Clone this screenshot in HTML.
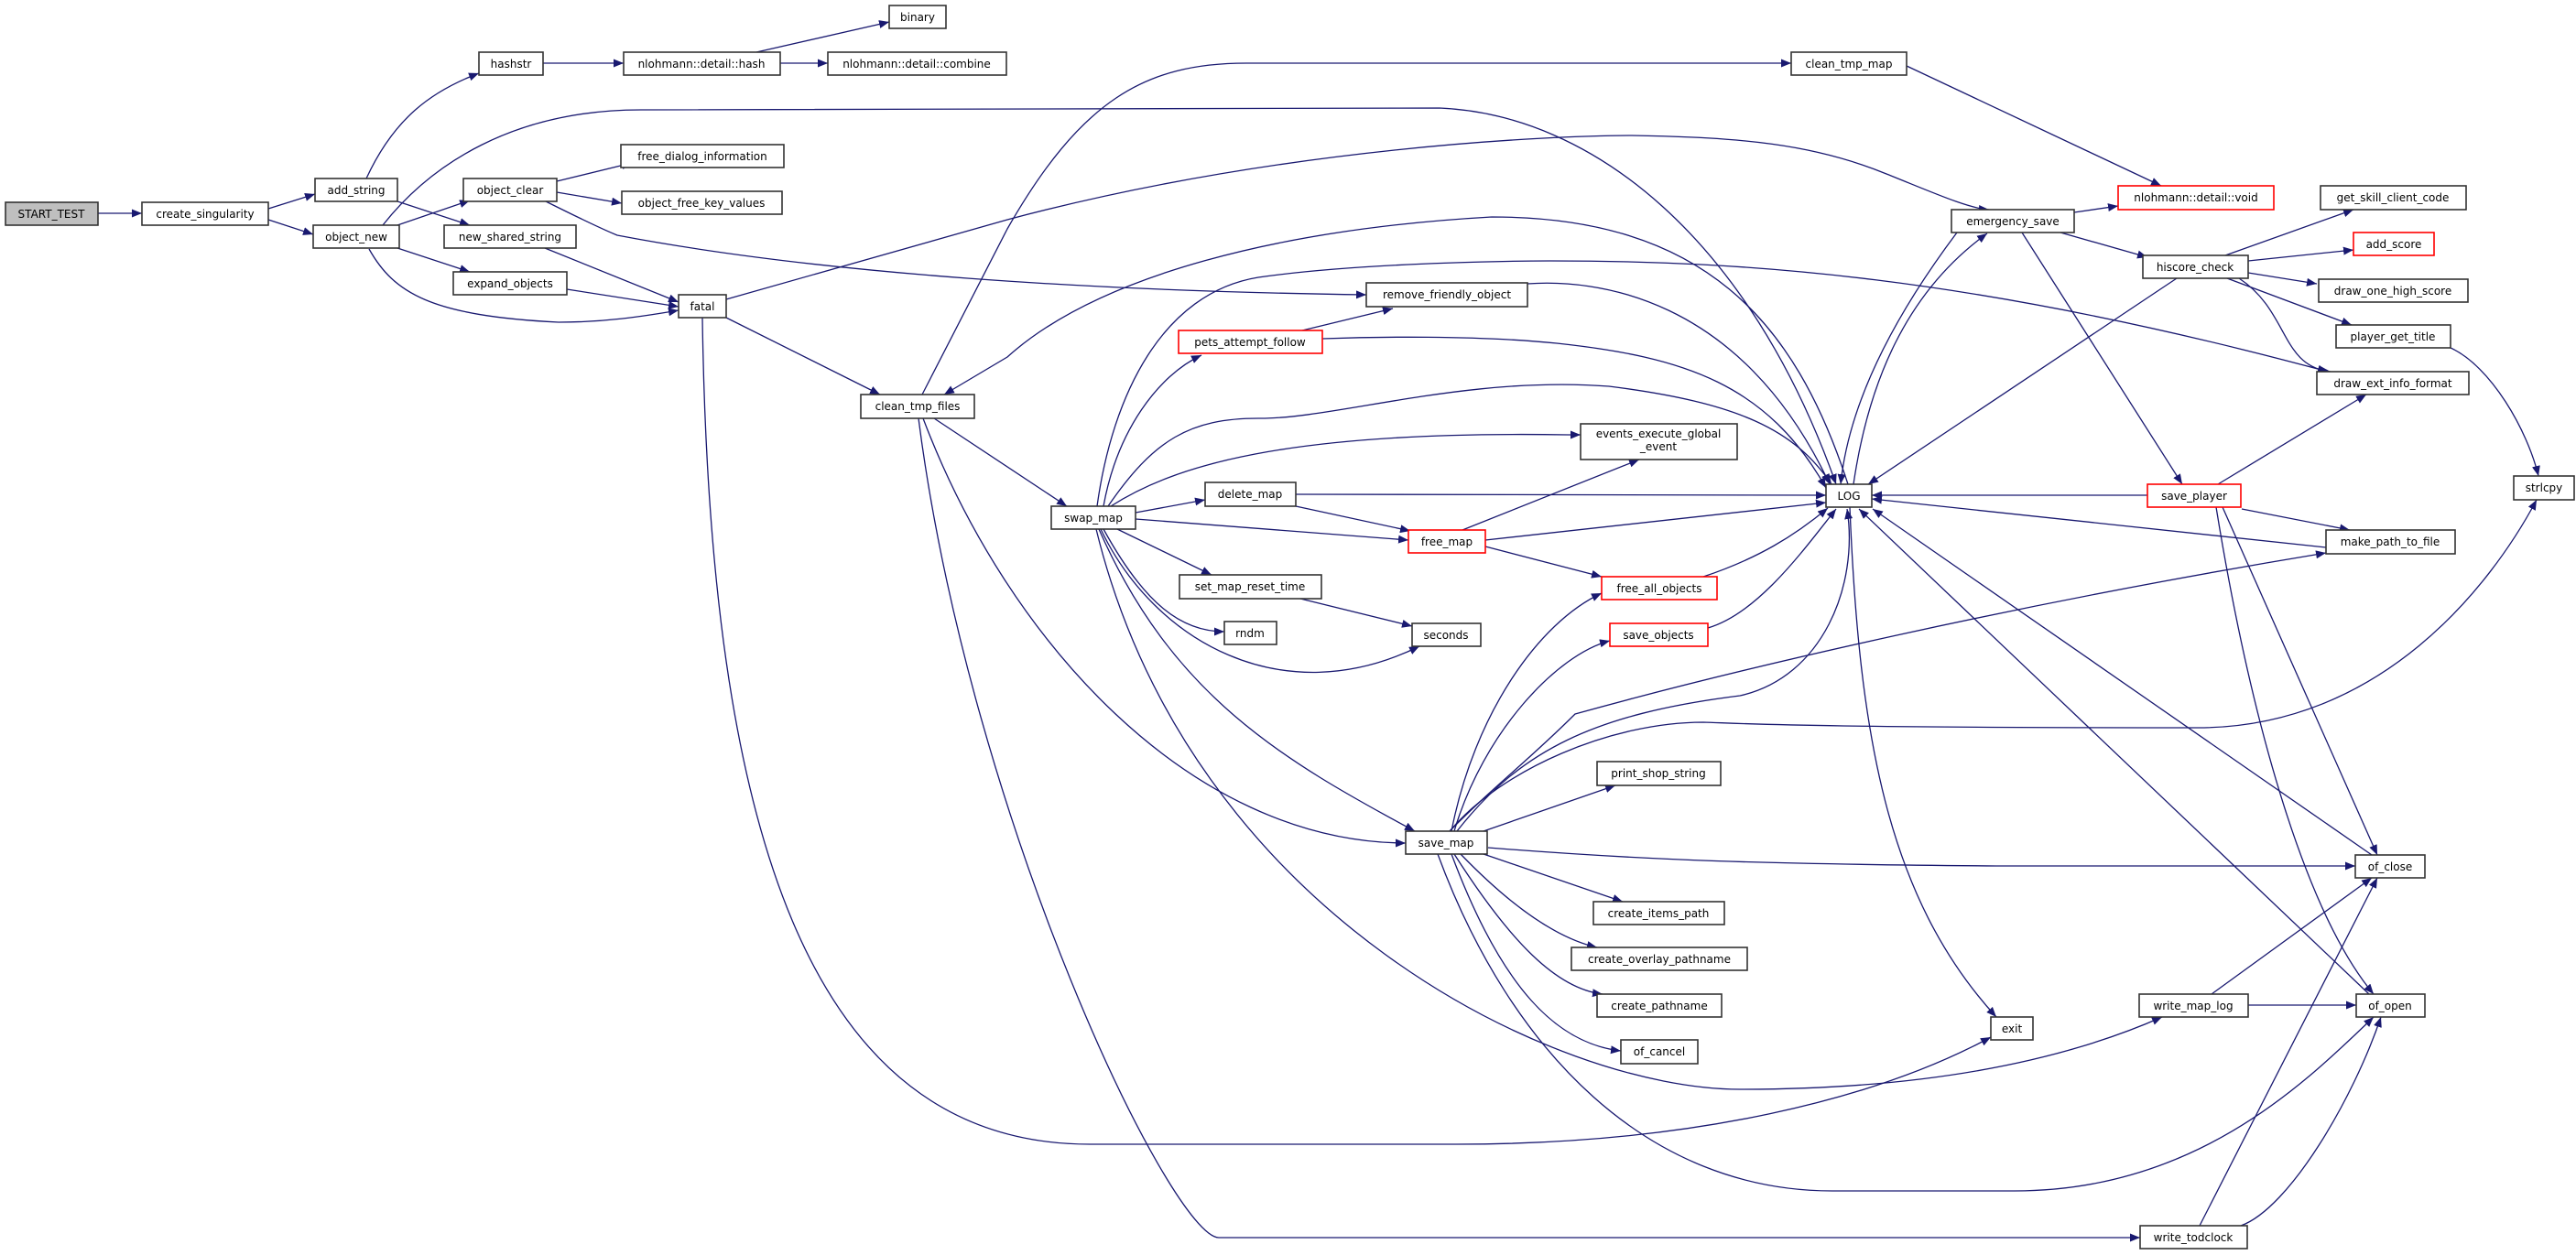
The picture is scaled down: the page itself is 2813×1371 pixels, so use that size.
<!DOCTYPE html>
<html><head><meta charset="utf-8"><style>
html,body{margin:0;padding:0;background:#fff;}
svg{display:block;}
text{font-family:"DejaVu Sans","Liberation Sans",sans-serif;font-size:12px;fill:#000;text-anchor:middle;}
.n{fill:#fff;stroke:#333;stroke-width:1.6;}
.r{fill:#fff;stroke:#ff0000;stroke-width:1.6;}
.g{fill:#bfbfbf;stroke:#333;stroke-width:1.6;}
.e{fill:none;stroke:#191970;stroke-width:1.3;marker-end:url(#a);}
</style></head><body>
<svg width="2813" height="1371" viewBox="0 0 2813 1371" xmlns="http://www.w3.org/2000/svg">
<defs><marker id="a" markerUnits="userSpaceOnUse" markerWidth="12" markerHeight="10" refX="11" refY="4.5" orient="auto"><path d="M0,0 L11,4.5 L0,9 z" fill="#191970"/></marker></defs>
<g>
<path class="e" d="M107,233 L155,233"/>
<path class="e" d="M293,228 L344,212"/>
<path class="e" d="M293,240 L342,256"/>
<path class="e" d="M400,195 C430,130 470,100 523,80"/>
<path class="e" d="M434,220 L513,246"/>
<path class="e" d="M593,69 L681,69"/>
<path class="e" d="M826,57 L971,24"/>
<path class="e" d="M852,69 L904,69"/>
<path class="e" d="M434,246 L513,219"/>
<path class="e" d="M434,271 L513,297"/>
<path class="e" d="M403,272 C430,320 470,345 610,352 C660,352 700,346 741,339"/>
<path class="e" d="M418,246 C470,180 560,120 700,120 L1572,118 C1738,125 1910,260 2005,529"/>
<path class="e" d="M608,198 L690,178"/>
<path class="e" d="M608,210 L679,222"/>
<path class="e" d="M596,220 C620,232 650,247 674,257 C900,300 1200,318 1492,322"/>
<path class="e" d="M595,271 L741,330"/>
<path class="e" d="M619,316 L741,335"/>
<path class="e" d="M793,327 L1100,240 C1400,160 1700,148 1782,148 C1900,150 1980,157 2060,190 C2110,210 2150,228 2172,229"/>
<path class="e" d="M793,347 L961,431"/>
<path class="e" d="M767,347 C775,900 880,1250 1190,1250 L1590,1250 C1850,1250 2050,1200 2174,1133"/>
<path class="e" d="M1007,431 L1100,250 C1180,110 1250,69 1361,69 L1956,69"/>
<path class="e" d="M2018,529 C1960,350 1860,237 1629,237 C1400,250 1200,300 1100,390 L1031,431"/>
<path class="e" d="M1020,457 L1165,553"/>
<path class="e" d="M1008,457 C1100,700 1300,920 1535,921"/>
<path class="e" d="M1003,457 C1060,900 1280,1352 1331,1352 L2337,1352"/>
<path class="e" d="M1213,553 C1280,510 1400,470 1712,475 L1726,475"/>
<path class="e" d="M1210,553 C1260,480 1300,457 1374,457 C1457,458 1600,410 1757,422 C1900,440 1960,470 2000,529"/>
<path class="e" d="M1205,553 C1220,470 1265,410 1312,388"/>
<path class="e" d="M1198,553 C1215,430 1270,320 1374,303 C1500,285 1693,285 1693,285 C1900,285 2150,300 2542,406"/>
<path class="e" d="M1240,560 L1316,546"/>
<path class="e" d="M1240,567 L1538,590"/>
<path class="e" d="M1220,578 L1323,628"/>
<path class="e" d="M1205,578 C1250,660 1290,690 1337,690"/>
<path class="e" d="M1202,578 C1260,700 1400,780 1550,706"/>
<path class="e" d="M1200,578 C1280,760 1400,830 1545,908"/>
<path class="e" d="M1197,578 C1300,1000 1700,1190 1900,1190 C2100,1190 2250,1160 2361,1111"/>
<path class="e" d="M1415,540 L1994,541"/>
<path class="e" d="M1415,553 L1540,580"/>
<path class="e" d="M1422,361 L1521,337"/>
<path class="e" d="M1444,370 C1500,368 1610,366 1700,375 C1840,390 1930,420 1994,533"/>
<path class="e" d="M1668,310 C1738,305 1900,320 1998,529"/>
<path class="e" d="M1420,654 L1542,684"/>
<path class="e" d="M1597,579 L1790,502"/>
<path class="e" d="M1622,597 L1749,630"/>
<path class="e" d="M1622,590 L1994,549"/>
<path class="e" d="M1860,630 C1920,610 1960,585 1996,555"/>
<path class="e" d="M1865,686 C1920,670 1970,600 2005,556"/>
<path class="e" d="M1585,908 C1610,780 1680,680 1749,648"/>
<path class="e" d="M1588,908 C1620,800 1700,715 1758,700"/>
<path class="e" d="M1591,908 C1660,820 1740,780 1900,760 C1990,740 2030,640 2017,556"/>
<path class="e" d="M1620,908 L1764,858"/>
<path class="e" d="M1583,908 C1630,860 1670,830 1720,780 C1900,730 2200,660 2540,604"/>
<path class="e" d="M1583,908 C1640,840 1760,789 1860,789 C1900,790 1950,795 2400,795 C2600,795 2720,640 2770,546"/>
<path class="e" d="M1625,926 C1800,940 1926,944 2180,946 L2572,946"/>
<path class="e" d="M1620,933 L1772,985"/>
<path class="e" d="M1595,933 C1650,990 1700,1025 1744,1035"/>
<path class="e" d="M1588,933 C1650,1030 1700,1080 1750,1086"/>
<path class="e" d="M1585,933 C1640,1080 1700,1140 1770,1148"/>
<path class="e" d="M1570,933 C1650,1150 1800,1301 2001,1301 L2200,1301 C2400,1301 2520,1180 2592,1111"/>
<path class="e" d="M2082,72 L2360,203"/>
<path class="e" d="M2265,232 L2313,225"/>
<path class="e" d="M2250,254 L2345,281"/>
<path class="e" d="M2208,254 L2383,529"/>
<path class="e" d="M2137,254 C2080,330 2020,430 2010,529"/>
<path class="e" d="M2024,529 C2040,420 2080,320 2170,255"/>
<path class="e" d="M2430,279 L2570,229"/>
<path class="e" d="M2455,285 L2570,273"/>
<path class="e" d="M2455,298 L2530,310"/>
<path class="e" d="M2432,304 L2568,355"/>
<path class="e" d="M2445,304 C2500,340 2490,400 2545,406"/>
<path class="e" d="M2377,304 L2040,529"/>
<path class="e" d="M2676,380 C2720,400 2760,470 2772,520"/>
<path class="e" d="M2422,529 L2584,431"/>
<path class="e" d="M2345,541 L2044,541"/>
<path class="e" d="M2448,556 L2566,579"/>
<path class="e" d="M2427,554 L2596,934"/>
<path class="e" d="M2420,554 C2460,800 2520,1000 2592,1086"/>
<path class="e" d="M2540,598 L2044,545"/>
<path class="e" d="M2590,934 L2045,556"/>
<path class="e" d="M2587,1086 L2030,556"/>
<path class="e" d="M2020,554 C2030,800 2060,980 2180,1111"/>
<path class="e" d="M2415,1086 L2590,959"/>
<path class="e" d="M2455,1098 L2573,1098"/>
<path class="e" d="M2402,1339 L2596,959"/>
<path class="e" d="M2447,1339 C2500,1320 2570,1200 2600,1111"/>
</g>
<g>
<rect class="g" x="6" y="221" width="101" height="25"/><text x="56" y="238">START_TEST</text>
<rect class="n" x="155" y="221" width="138" height="25"/><text x="224" y="238">create_singularity</text>
<rect class="n" x="344" y="195" width="90" height="25"/><text x="389" y="212">add_string</text>
<rect class="n" x="342" y="246" width="94" height="25"/><text x="389" y="263">object_new</text>
<rect class="n" x="523" y="57" width="70" height="25"/><text x="558" y="74">hashstr</text>
<rect class="n" x="681" y="57" width="171" height="25"/><text x="766" y="74">nlohmann::detail::hash</text>
<rect class="n" x="971" y="6" width="62" height="25"/><text x="1002" y="23">binary</text>
<rect class="n" x="904" y="57" width="195" height="25"/><text x="1001" y="74">nlohmann::detail::combine</text>
<rect class="n" x="506" y="195" width="102" height="25"/><text x="557" y="212">object_clear</text>
<rect class="n" x="678" y="158" width="178" height="25"/><text x="767" y="175">free_dialog_information</text>
<rect class="n" x="679" y="209" width="175" height="25"/><text x="766" y="226">object_free_key_values</text>
<rect class="n" x="485" y="246" width="144" height="25"/><text x="557" y="263">new_shared_string</text>
<rect class="n" x="495" y="297" width="124" height="25"/><text x="557" y="314">expand_objects</text>
<rect class="n" x="741" y="322" width="52" height="25"/><text x="767" y="339">fatal</text>
<rect class="n" x="940" y="431" width="124" height="26"/><text x="1002" y="448">clean_tmp_files</text>
<rect class="n" x="1956" y="57" width="126" height="25"/><text x="2019" y="74">clean_tmp_map</text>
<rect class="n" x="1492" y="309" width="176" height="26"/><text x="1580" y="326">remove_friendly_object</text>
<rect class="r" x="1287" y="361" width="157" height="25"/><text x="1365" y="378">pets_attempt_follow</text>
<rect class="n" x="1726" y="463" width="171" height="39"/><text x="1811" y="478">events_execute_global</text><text x="1811" y="492">_event</text>
<rect class="n" x="1148" y="553" width="92" height="25"/><text x="1194" y="570">swap_map</text>
<rect class="n" x="1316" y="527" width="99" height="26"/><text x="1365" y="544">delete_map</text>
<rect class="r" x="1538" y="579" width="84" height="25"/><text x="1580" y="596">free_map</text>
<rect class="n" x="1288" y="628" width="155" height="26"/><text x="1365" y="645">set_map_reset_time</text>
<rect class="n" x="1337" y="679" width="57" height="25"/><text x="1365" y="696">rndm</text>
<rect class="n" x="1542" y="681" width="75" height="25"/><text x="1579" y="698">seconds</text>
<rect class="r" x="1749" y="630" width="126" height="25"/><text x="1812" y="647">free_all_objects</text>
<rect class="r" x="1758" y="681" width="107" height="25"/><text x="1811" y="698">save_objects</text>
<rect class="n" x="1744" y="832" width="135" height="26"/><text x="1811" y="849">print_shop_string</text>
<rect class="n" x="1535" y="908" width="89" height="25"/><text x="1579" y="925">save_map</text>
<rect class="n" x="1740" y="985" width="143" height="25"/><text x="1811" y="1002">create_items_path</text>
<rect class="n" x="1716" y="1035" width="192" height="25"/><text x="1812" y="1052">create_overlay_pathname</text>
<rect class="n" x="1744" y="1086" width="136" height="25"/><text x="1812" y="1103">create_pathname</text>
<rect class="n" x="1770" y="1136" width="84" height="26"/><text x="1812" y="1153">of_cancel</text>
<rect class="n" x="1994" y="529" width="50" height="25"/><text x="2019" y="546">LOG</text>
<rect class="n" x="2174" y="1111" width="46" height="25"/><text x="2197" y="1128">exit</text>
<rect class="n" x="2336" y="1086" width="119" height="25"/><text x="2395" y="1103">write_map_log</text>
<rect class="n" x="2337" y="1339" width="117" height="25"/><text x="2395" y="1356">write_todclock</text>
<rect class="n" x="2572" y="934" width="76" height="25"/><text x="2610" y="951">of_close</text>
<rect class="n" x="2573" y="1086" width="75" height="25"/><text x="2610" y="1103">of_open</text>
<rect class="n" x="2131" y="229" width="134" height="25"/><text x="2198" y="246">emergency_save</text>
<rect class="r" x="2313" y="203" width="170" height="26"/><text x="2398" y="220">nlohmann::detail::void</text>
<rect class="n" x="2340" y="279" width="115" height="25"/><text x="2397" y="296">hiscore_check</text>
<rect class="n" x="2534" y="203" width="159" height="26"/><text x="2613" y="220">get_skill_client_code</text>
<rect class="r" x="2570" y="254" width="88" height="25"/><text x="2614" y="271">add_score</text>
<rect class="n" x="2532" y="305" width="163" height="25"/><text x="2613" y="322">draw_one_high_score</text>
<rect class="n" x="2551" y="355" width="125" height="25"/><text x="2613" y="372">player_get_title</text>
<rect class="n" x="2530" y="406" width="166" height="25"/><text x="2613" y="423">draw_ext_info_format</text>
<rect class="r" x="2345" y="529" width="102" height="25"/><text x="2396" y="546">save_player</text>
<rect class="n" x="2745" y="520" width="66" height="26"/><text x="2778" y="537">strlcpy</text>
<rect class="n" x="2540" y="579" width="141" height="26"/><text x="2610" y="596">make_path_to_file</text>
</g>
</svg>
</body></html>
